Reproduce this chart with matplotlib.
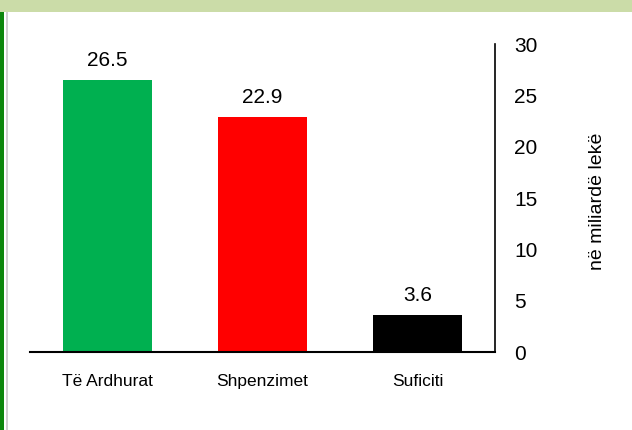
import matplotlib.pyplot as plt
from matplotlib.patches import Rectangle

categories = ['Të Ardhurat', 'Shpenzimet', 'Suficiti']
values = [26.5, 22.9, 3.6]
colors = ['#00b050', '#ff0000', '#000000']
yticks = [0, 5, 10, 15, 20, 25, 30]

fig = plt.figure(figsize=(6.32, 4.30), dpi=100)
fig.patch.set_facecolor('white')

# frame decorations
fig.add_artist(Rectangle((0, 1 - 12/430), 1, 12/430, transform=fig.transFigure,
                         facecolor='#cbdca8', edgecolor='none'))
fig.add_artist(Rectangle((0, 0), 3.5/632, 1 - 12/430, transform=fig.transFigure,
                         facecolor='#0d870d', edgecolor='none'))
fig.add_artist(Rectangle((6/632, 0), 1.5/632, 1 - 12/430, transform=fig.transFigure,
                         facecolor='#d0d0d0', edgecolor='none'))

ax = fig.add_axes([30/632, 1 - 352/430, 465/632, 308/430])
x = range(len(categories))
bars = ax.bar(x, values, width=0.57, color=colors)
ax.set_xlim(-0.5, 2.5)
ax.set_ylim(0, 30)

for xi, v in zip(x, values):
    ax.text(xi, v + 1.35, f'{v:.1f}', ha='center', va='baseline', fontsize=15,
            family='Liberation Sans')

ax.yaxis.tick_right()
ax.set_yticks(yticks)
ax.set_yticklabels([str(t) for t in yticks], fontsize=15, family='Liberation Sans')
ax.tick_params(axis='y', length=0, pad=14)
ax.set_xticks(list(x))
ax.set_xticklabels(categories, fontsize=12.5, family='Liberation Sans')
ax.tick_params(axis='x', length=0, pad=16)
fig.text(598/632, 1 - 201/430, 'në miliardë lekë', rotation=90, ha='center', va='center',
         fontsize=14, family='Liberation Sans')

for s in ['top', 'left']:
    ax.spines[s].set_visible(False)
ax.spines['bottom'].set_linewidth(1.5)
ax.spines['right'].set_linewidth(1.2)

fig.savefig('out.png', dpi=100)
